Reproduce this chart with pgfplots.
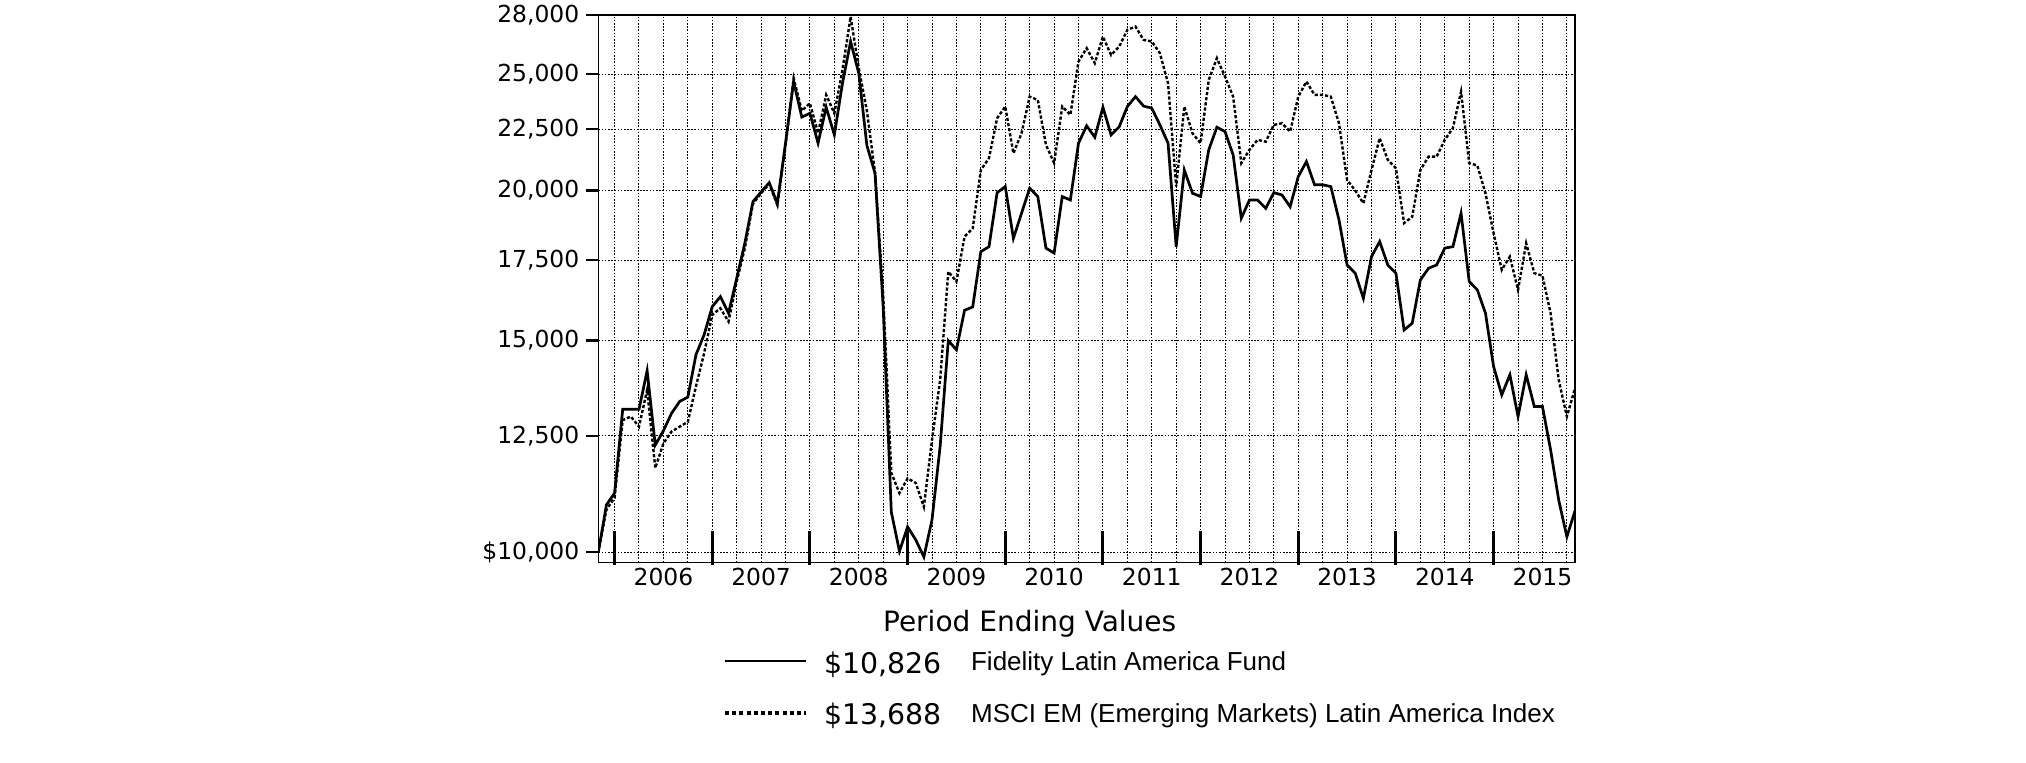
\documentclass[border=0pt]{standalone}
\usepackage{fontspec}
\setmainfont{DejaVu Sans}
\newfontfamily\legfont{Liberation Sans}
\usepackage{pgfplots}
\pgfplotsset{compat=1.18}
\usepackage{pgfplotstable}

\pgfplotstableread{
m fund index
0 10000 10000
1 10950 10850
2 11200 11100
3 13150 12880
4 13150 12970
5 13150 12720
6 14160 13650
7 12280 11750
8 12620 12320
9 13050 12600
10 13350 12720
11 13460 12840
12 14600 13740
13 15170 14640
14 16010 15760
15 16320 15960
16 15810 15560
17 16900 16800
18 18080 17900
19 19580 19500
20 19950 19900
21 20300 20250
22 19520 19450
23 21900 21800
24 24640 24800
25 23020 23300
26 23190 23640
27 21900 22320
28 23460 24020
29 22250 23190
30 24560 25200
31 26610 27900
32 25040 25300
33 21800 23300
34 20670 20700
35 16000 16400
36 10800 11640
37 10020 11200
38 10500 11520
39 10240 11420
40 9910 10910
41 10640 12400
42 12250 13910
43 15000 17120
44 14740 16800
45 15900 18310
46 16000 18600
47 17790 20800
48 17960 21280
49 19920 22970
50 20150 23490
51 18250 21480
52 19150 22320
53 20090 23940
54 19770 23790
55 17910 21830
56 17740 21080
57 19770 23490
58 19640 23120
59 21900 25610
60 22640 26270
61 22150 25530
62 23460 26860
63 22250 25930
64 22600 26350
65 23490 27210
66 23940 27380
67 23510 26690
68 23420 26610
69 22680 26020
70 21900 24560
71 17960 20150
72 20800 23490
73 19900 22320
74 19770 21900
75 21620 24720
76 22580 25770
77 22390 24880
78 21410 23940
79 18970 21080
80 19640 21620
81 19640 22040
82 19330 21960
83 19920 22680
84 19830 22750
85 19390 22390
86 20540 23940
87 21140 24640
88 20220 24020
89 20220 24020
90 20150 23940
91 18910 22750
92 17340 20410
93 17070 20000
94 16270 19520
95 17620 20800
96 18140 22110
97 17340 21210
98 17070 20870
99 15310 18790
100 15510 19020
101 16850 20800
102 17230 21340
103 17340 21340
104 17910 22040
105 17960 22540
106 19150 24170
107 16800 21080
108 16530 20980
109 15810 19900
110 14270 18430
111 13520 17180
112 14050 17620
113 12970 16530
114 14050 18080
115 13220 17070
116 13220 16990
117 12170 15810
118 11050 13910
119 10300 12970
120 10826 13688
}\datatable

\begin{document}
\begin{tikzpicture}[x=1pt,y=1pt]
\path[use as bounding box] (0,0) rectangle (1013,381.5);
\begin{axis}[
  at={(299.15pt,100.35pt)}, anchor=south west,
  scale only axis, width=488.35pt, height=273.65pt,
  ymode=log, ymin=9810, ymax=28000, xmin=0, xmax=120,
  axis line style={line width=0.6pt},
  tick pos=left,
  ytick={10000,12500,15000,17500,20000,22500,25000,28000},
  yticklabels={{\$10,000},{12,500},{15,000},{17,500},{20,000},{22,500},{25,000},{28,000}},
  minor ytick={},
  ytick style={line width=1.2pt, black},
  tick align=outside,
  major tick length=6pt,
  minor tick length=0pt,
  ymajorgrids,
  major grid style={dash pattern=on 0.8pt off 0.8pt, line width=0.5pt, black},
  minor grid style={dash pattern=on 0.8pt off 0.8pt, line width=0.5pt, black},
  xtick={8,20,32,44,56,68,80,92,104,116},
  xticklabels={2006,2007,2008,2009,2010,2011,2012,2013,2014,2015},
  xticklabel style={yshift=6.5pt},
  xtick style={draw=none},
  minor xtick={2,5,...,119},
  xminorgrids,
  extra x ticks={2,14,26,38,50,62,74,86,98,110},
  extra x tick labels={},
  extra x tick style={grid=none, xtick style={draw=black, line width=1.5pt, yshift=-1.5pt}, major tick length=17pt, tick align=inside},
  tick label style={font=\fontsize{11.7}{13}\selectfont},
]
\addplot[black, line width=1.2pt, dash pattern=on 1.6pt off 1pt] table[x=m,y=index]{\datatable};
\addplot[black, line width=1.35pt] table[x=m,y=fund]{\datatable};
\end{axis}
\node[anchor=base west, inner sep=0, font=\fontsize{14}{16}\selectfont] at (441.35,65.65) {Period Ending Values};
\draw[line width=1.1pt] (362.5,51) -- (403,51);
\draw[line width=2pt, dash pattern=on 2pt off 1.6pt] (362.5,25.15) -- (403,25.15);
\node[anchor=base west, inner sep=0, font=\fontsize{14.2}{16}\selectfont] at (412,44.85) {\$10,826};
\node[anchor=base west, inner sep=0, font=\fontsize{14.2}{16}\selectfont] at (412,19) {\$13,688};
\node[anchor=base west, inner sep=0, font=\legfont\fontsize{13}{15}\selectfont] at (485.35,46) {Fidelity Latin America Fund};
\node[anchor=base west, inner sep=0, font=\legfont\fontsize{13}{15}\selectfont] at (485.35,20.15) {MSCI EM (Emerging Markets) Latin America Index};
\end{tikzpicture}
\end{document}
